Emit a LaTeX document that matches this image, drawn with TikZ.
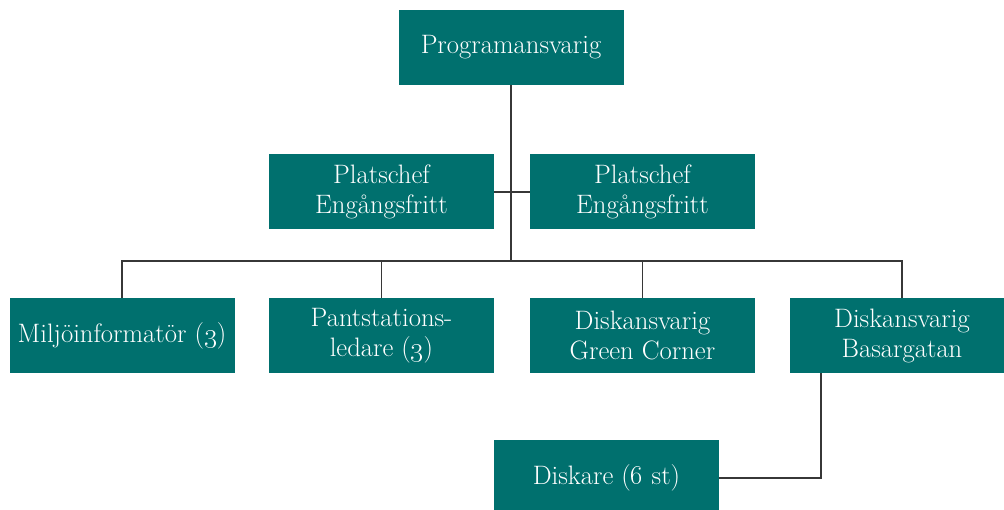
\documentclass[tikz,border=0pt]{standalone}
\usepackage{tikz}
\usetikzlibrary{calc}
\definecolor{teal box}{RGB}{0,112,110}
\definecolor{wire}{RGB}{55,55,55}
\def\BoxW{168.75pt}
\def\BoxH{56.25pt}
\tikzset{
    role box/.style={
        fill=teal box, draw=none, text=white,
        minimum width=\BoxW, minimum height=\BoxH,
        align=center, inner sep=2pt,
        font=\fontsize{20}{22.5}\selectfont
    },
    wire line/.style={draw=wire, line width=1.1pt}
}

\begin{document}
\begin{tikzpicture}[x=0.75pt, y=0.75pt]
    \useasboundingbox (0,0) rectangle (1004,510);

    \node[role box] (Top) at (511, 462.5) {Programansvarig};
    \node[role box] (Chef1) at (381.5, 318) {Platschef\\Engångsfritt};
    \node[role box] (Chef2) at (642.5, 318) {Platschef\\Engångsfritt};

    \node[role box] (M1) at (122, 174.5) {Miljöinformatör (\oldstylenums{3})};
    \node[role box] (M2) at (381.5, 174.5) {Pantstations-\\ledare (\oldstylenums{3})};
    \node[role box] (M3) at (642.5, 174.5) {Diskansvarig\\Green Corner};
    \node[role box] (M4) at (902, 174.5) {Diskansvarig\\Basargatan};

    \node[role box] (Disk) at (606.5, 32) {Diskare (\oldstylenums{6} st)};

    \coordinate (Hub) at (511, 249);
    \coordinate (Drop) at (821, 137);

    % stam och sidogrenar
    \draw[wire line] (Top.south) -- (Hub);
    \draw[wire line] (Chef1.east) -- (Chef1.east -| Hub);
    \draw[wire line] (Chef2.west) -- (Chef2.west -| Hub);
    % tvärbalk ner till raden
    \draw[wire line] (M1.north) |- (Hub) -| (M4.north);
    \draw[wire line] (M2.north) -- (M2.north |- Hub);
    \draw[wire line] (M3.north) -- (M3.north |- Hub);
    \draw[wire line] (Disk.east) -| (Drop);
\end{tikzpicture}
\end{document}
